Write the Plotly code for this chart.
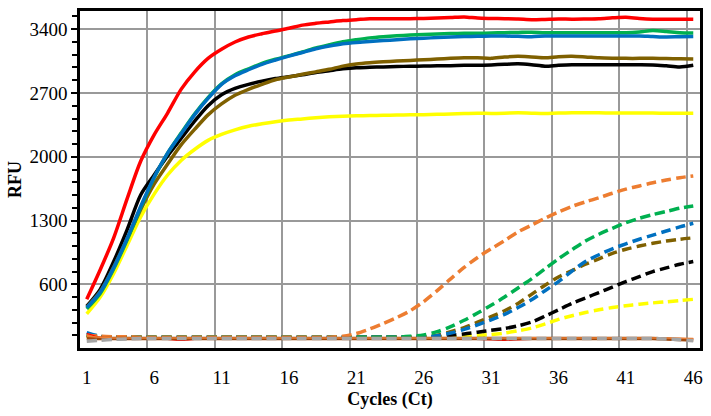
import plotly.graph_objects as go

# qPCR amplification curves, RFU per cycle
cycles = list(range(1, 47))

# solid curves
red_solid = [436, 760, 1110, 1540, 1950, 2240, 2480, 2740, 2930, 3080, 3180, 3260, 3315, 3350, 3380, 3410,
             3445, 3465, 3480, 3495, 3505, 3515, 3515, 3515, 3515, 3518, 3522, 3528, 3535, 3522, 3518, 3515,
             3512, 3505, 3508, 3512, 3510, 3512, 3515, 3525, 3532, 3518, 3510, 3510, 3510, 3510]
green_solid = [330, 500, 770, 1090, 1440, 1770, 2040, 2260, 2470, 2650, 2800, 2900, 2965, 3025, 3070, 3110,
               3150, 3195, 3230, 3262, 3285, 3305, 3318, 3328, 3336, 3342, 3348, 3352, 3356, 3356, 3358, 3362,
               3365, 3368, 3362, 3362, 3362, 3362, 3362, 3362, 3362, 3370, 3385, 3375, 3362, 3358]
blue_solid = [345, 515, 785, 1105, 1455, 1775, 2040, 2250, 2460, 2640, 2795, 2890, 2955, 3015, 3062, 3105,
              3145, 3185, 3215, 3240, 3255, 3265, 3275, 3285, 3295, 3302, 3308, 3315, 3320, 3322, 3325, 3325,
              3322, 3318, 3325, 3326, 3326, 3326, 3326, 3326, 3326, 3326, 3320, 3315, 3318, 3320]
black_solid = [360, 545, 850, 1200, 1580, 1800, 2010, 2200, 2390, 2560, 2680, 2750, 2795, 2830, 2858, 2878,
               2900, 2925, 2945, 2965, 2978, 2982, 2986, 2990, 2994, 2995, 2998, 3000, 3004, 3004, 3008, 3015,
               3020, 3010, 2994, 3004, 3010, 3010, 3010, 3010, 3010, 3010, 3008, 2998, 2986, 3005]
brown_solid = [350, 520, 790, 1100, 1420, 1700, 1920, 2130, 2300, 2460, 2580, 2675, 2740, 2795, 2845, 2875,
               2905, 2932, 2960, 2995, 3018, 3032, 3042, 3050, 3058, 3064, 3072, 3080, 3086, 3086, 3080, 3095,
               3102, 3095, 3086, 3098, 3102, 3095, 3086, 3082, 3080, 3080, 3080, 3078, 3075, 3073]
yellow_solid = [276, 460, 720, 1030, 1340, 1590, 1800, 1960, 2080, 2180, 2245, 2295, 2335, 2362, 2385, 2403,
                2415, 2428, 2438, 2445, 2450, 2452, 2455, 2458, 2460, 2462, 2466, 2470, 2475, 2478, 2476, 2478,
                2482, 2478, 2475, 2480, 2482, 2482, 2482, 2480, 2480, 2480, 2480, 2478, 2478, 2478]

# dashed curves
orange_dash = [45, 30, 25, 25, 20, 20, 20, 20, 20, 20, 20, 20, 20, 20, 20, 20, 20, 20, 20, 30, 60, 110, 170,
               235, 310, 410, 530, 660, 785, 895, 990, 1080, 1175, 1250, 1325, 1395, 1455, 1505, 1550, 1600,
               1645, 1680, 1715, 1745, 1770, 1790]
green_dash = [30, 25, 20, 20, 20, 20, 20, 20, 20, 20, 20, 20, 20, 20, 20, 20, 20, 20, 20, 20, 20, 20, 20, 20,
              30, 45, 80, 135, 205, 285, 370, 460, 560, 660, 770, 880, 980, 1075, 1150, 1215, 1275, 1325, 1365,
              1400, 1435, 1460]
blue_dash = [70, 30, 20, 20, 20, 20, 20, 20, 20, 20, 20, 20, 20, 20, 20, 20, 20, 20, 20, 20, 20, 20, 20, 20,
             20, 20, 35, 65, 105, 155, 210, 270, 345, 430, 530, 630, 745, 850, 925, 990, 1045, 1095, 1140, 1185,
             1230, 1270]
brown_dash = [40, 25, 20, 20, 20, 20, 20, 20, 20, 20, 20, 20, 20, 20, 20, 20, 20, 20, 20, 20, 20, 20, 20, 20,
              20, 20, 40, 80, 125, 185, 245, 310, 390, 490, 590, 680, 750, 820, 880, 940, 985, 1020, 1050,
              1075, 1095, 1110]
black_dash = [40, 25, 20, 20, 20, 20, 20, 20, 20, 20, 20, 20, 20, 20, 20, 20, 20, 20, 20, 20, 20, 20, 20, 20,
              20, 20, 20, 40, 55, 75, 95, 115, 145, 185, 250, 320, 390, 450, 510, 570, 630, 685, 740, 780, 820,
              850]
yellow_dash = [30, 20, 20, 20, 20, 20, 20, 20, 20, 20, 20, 20, 20, 20, 20, 20, 20, 20, 20, 20, 20, 20, 20, 20,
               20, 20, 20, 20, 30, 40, 50, 65, 90, 120, 165, 215, 255, 290, 320, 345, 365, 382, 396, 408, 422,
               435]

# negative controls sitting on the baseline
brown_base = [10, 5, 5, 5, 5, 5, 5, 5, 5, 5, 5, 5, 5, 5, 5, 5, 5, 5, 5, 5, 5, 5, 5, 5, 5, 5, 5, 5, 5, 5, 5, 5,
              5, 5, 5, 5, 5, 5, 5, 5, 5, 5, 5, 0, -5, -10]
orange_base = [30, 20, 12, 10, 10, 10, 10, 10, 10, 10, 10, 10, 10, 10, 10, 10, 10, 10, 10, 10, 10, 10, 10, 10,
               10, 10, 10, 10, 10, 10, 10, 10, 12, 14, 12, 10, 10, 10, 10, 10, 10, 10, 10, 10, 8, 5]
red_base = [60, 20, 5, 0, 0, 0, -5, -15, -5, 0, 0, 0, 0, 0, 0, 0, 0, 0, 0, 0, 0, 0, 0, 0, 0, 0, 0, 0, 0, -5, -10,
            -15, -10, -5, 0, 0, 0, 0, 0, 0, 0, 0, 0, 0, 0, 0]
gray_base = [-25, -15, -5, 0, 5, 5, 5, 5, 5, 5, 5, 5, 5, 5, 5, 5, 5, 5, 5, 5, 5, 5, 5, 5, 5, 5, 5, 5, 5, 5, 5,
             5, 5, 5, 5, 5, 5, 5, 5, 5, 5, 5, 5, 0, -8, -20]

x_tick_vals = [1, 6, 11, 16, 21, 26, 31, 36, 41, 46]

fig = go.Figure()


def add_line(y, color, width=3.5, dash=None):
    fig.add_trace(go.Scatter(x=cycles, y=y, mode='lines',
                             line=dict(color=color, width=width, dash=dash, shape='spline', smoothing=0.8),
                             hoverinfo='skip', showlegend=False))


add_line(yellow_solid, '#ffff00')
add_line(black_solid, '#000000')
add_line(brown_solid, '#7f6000')
add_line(green_solid, '#00b050')
add_line(blue_solid, '#0070c0')
add_line(red_solid, '#ff0000')

dash_pat = '10px,5px'
add_line(yellow_dash, '#ffff00', dash=dash_pat)
add_line(black_dash, '#000000', dash=dash_pat)
add_line(brown_dash, '#7f6000', dash=dash_pat)
add_line(blue_dash, '#0070c0', dash=dash_pat)
add_line(green_dash, '#00b050', dash=dash_pat)
add_line(orange_dash, '#ed7d31', dash=dash_pat)

add_line(red_base, '#ff0000', width=1.2)
add_line(brown_base, '#9e480e', width=3.5)
add_line(orange_base, '#ed7d31', width=1.5)
add_line(gray_base, '#a5a5a5', width=3.5, dash=dash_pat)

tick_font = dict(family='Liberation Serif', size=19, color='black')
title_font = dict(family='Liberation Serif', size=18, color='black', weight='bold')

fig.update_layout(
    width=711, height=416,
    margin=dict(l=80, r=10, t=8, b=68),
    paper_bgcolor='white', plot_bgcolor='white',
    showlegend=False,
    xaxis=dict(range=[0.5, 46.5], tickmode='array', tickvals=x_tick_vals,
               ticktext=[str(v) for v in x_tick_vals],
               showgrid=False, zeroline=False, ticks='', ticklabelstandoff=10,
               showline=True, linecolor='black', linewidth=2.5, mirror=True,
               minor=dict(tick0=0.5, dtick=5, showgrid=True, gridcolor='#999999', gridwidth=1.5, ticks=''),
               tickfont=tick_font,
               title=dict(text='Cycles (Ct)', font=title_font, standoff=6)),
    yaxis=dict(range=[-99, 3600], tickmode='linear', tick0=600, dtick=700,
               showgrid=True, gridcolor='#999999', gridwidth=1.5, zeroline=False,
               ticks='outside', ticklen=6, tickwidth=1.5, tickcolor='black',
               minor=dict(tick0=600, dtick=140, ticks='outside', ticklen=5, tickwidth=1.5,
                          tickcolor='black', showgrid=False),
               showline=True, linecolor='black', linewidth=2.5, mirror=True,
               tickfont=tick_font,
               title=dict(text='RFU', font=title_font, standoff=4)),
)

# page has an 8px body margin by default; drop it so the figure sits at 0,0
fig.write_html('out.html', config={'displayModeBar': False},
               post_script="document.body.style.margin='0';document.body.style.overflow='hidden';")
